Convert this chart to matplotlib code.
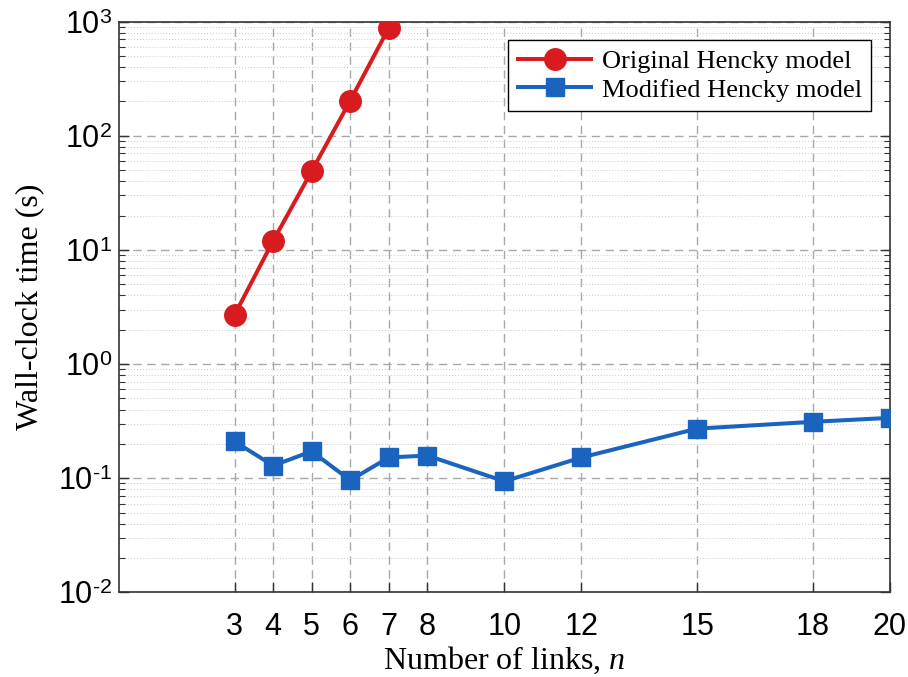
import matplotlib
matplotlib.use("Agg")
import matplotlib.pyplot as plt
from matplotlib.ticker import LogLocator, NullFormatter, FuncFormatter
import numpy as np

plt.rcParams["mathtext.fontset"] = "custom"
plt.rcParams["mathtext.rm"] = "Liberation Sans"
plt.rcParams["mathtext.it"] = "Liberation Serif:italic"

# wall-clock times per number of links
n_original = [3, 4, 5, 6, 7]
t_original = [2.7, 12.0, 49.0, 203.0, 880.0]

n_modified = [3, 4, 5, 6, 7, 8, 10, 12, 15, 18, 20]
t_modified = [0.21, 0.129, 0.172, 0.096, 0.152, 0.158, 0.094, 0.152, 0.272, 0.312, 0.338]

xticks = [3, 4, 5, 6, 7, 8, 10, 12, 15, 18, 20]

red = "#D81B1F"
blue = "#1A64BF"
spine_col = "#333333"


def pow10(v, pos):
    e = int(round(np.log10(v)))
    if e < 0:
        return "$10^{\\text{-}%d}$" % (-e)
    return "$10^{%d}$" % e


fig = plt.figure(figsize=(9.08, 6.77), dpi=100)
ax = fig.add_axes([0.131, 0.125, 0.849, 0.843])

ax.plot(n_original, t_original, "-o", color=red, lw=2.9, markersize=15.5,
        label="Original Hencky model", zorder=3)
ax.plot(n_modified, t_modified, "-s", color=blue, lw=2.9, markersize=13.5,
        label="Modified Hencky model", zorder=3)

ax.set_yscale("log")
ax.set_xlim(0, 20)
ax.set_ylim(1e-2, 1e3)
ax.set_xticks(xticks)
ax.set_xticklabels([str(v) for v in xticks], family="Liberation Sans", fontsize=22)
ax.yaxis.set_major_locator(LogLocator(base=10, numticks=10))
ax.yaxis.set_major_formatter(FuncFormatter(pow10))
ax.yaxis.set_minor_locator(LogLocator(base=10, subs=range(2, 10), numticks=20))
ax.yaxis.set_minor_formatter(NullFormatter())

ax.tick_params(which="both", direction="in", right=True, top=True, color=spine_col)
ax.tick_params(which="major", length=7, width=1)
ax.tick_params(axis="x", pad=14)
ax.tick_params(axis="y", pad=5, labelsize=22)
ax.tick_params(which="minor", length=4, width=0.8)
ax.tick_params(axis="x", top=False)

ax.grid(which="major", linestyle=(0, (6, 4)), color="#A8A8A8", lw=1.0)
ax.grid(which="minor", axis="y", linestyle=(0, (1, 2)), color="#C8C8C8", lw=0.7)
ax.set_axisbelow(True)

for s in ax.spines.values():
    s.set_color(spine_col)
    s.set_linewidth(1.2)

ax.set_xlabel("Number of links, $\\mathit{n}$", family="Liberation Serif", fontsize=23,
              labelpad=2)
ax.set_ylabel("Wall-clock time (s)", family="Liberation Serif", fontsize=23,
              labelpad=10)

leg = ax.legend(loc="upper right", prop={"family": "Liberation Serif", "size": 19},
                fancybox=False, framealpha=1, edgecolor="black",
                handlelength=2.8, borderpad=0.35, labelspacing=0.2,
                borderaxespad=0.7, handletextpad=0.4)
leg.get_frame().set_linewidth(1.0)

fig.savefig("out.png", dpi=100)
